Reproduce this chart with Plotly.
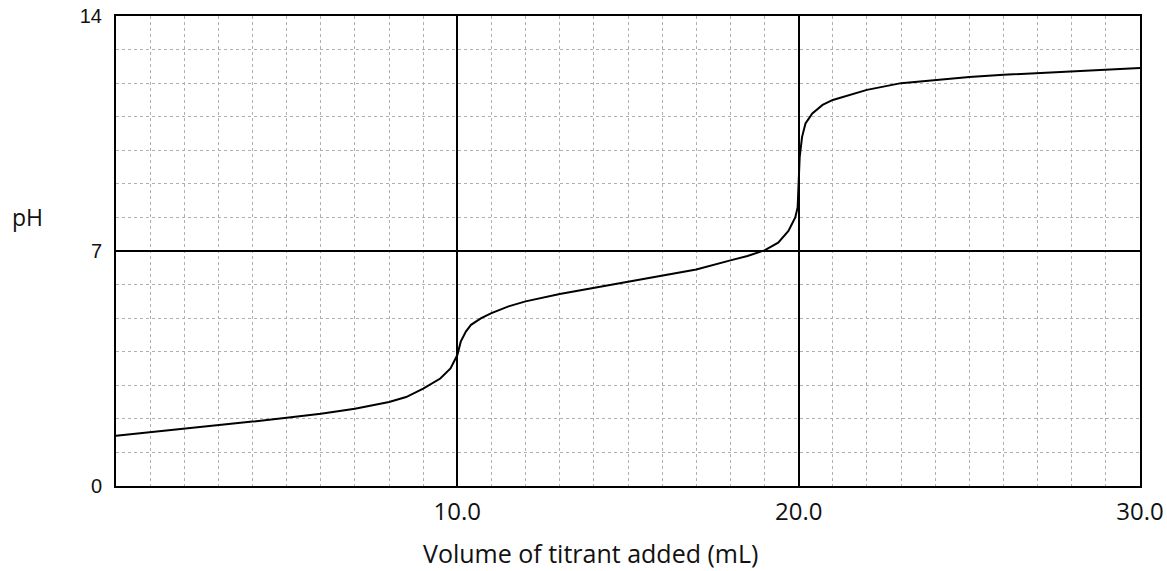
import plotly.graph_objects as go

volume_ml = [0, 1, 2, 3, 4, 5, 6, 7, 8, 8.5, 9, 9.5, 9.8, 10, 10.1, 10.25, 10.4, 10.7,
             11, 11.5, 12, 13, 14, 14.5, 15, 16, 17, 18, 18.5, 19, 19.4, 19.7, 19.9,
             19.97, 20.0, 20.03, 20.1, 20.2, 20.4, 20.7, 21, 21.5, 22, 23, 24, 25, 26,
             27, 28, 29, 30]
ph_values = [1.5, 1.6, 1.7, 1.8, 1.92, 2.03, 2.15, 2.3, 2.5, 2.65, 2.9, 3.2, 3.5, 3.9,
             4.3, 4.6, 4.8, 5.0, 5.15, 5.35, 5.5, 5.72, 5.9, 5.98, 6.07, 6.25, 6.45,
             6.72, 6.85, 7.02, 7.25, 7.6, 8.0, 8.3, 9.0, 9.8, 10.4, 10.8, 11.1, 11.35,
             11.5, 11.65, 11.8, 12.0, 12.1, 12.18, 12.25, 12.3, 12.35, 12.4, 12.45]

x_tick_vals = [10, 20, 30]
x_tick_text = ["10.0", "20.0", "30.0"]
y_tick_vals = [0, 7, 14]
y_tick_text = ["0", "7", "14"]

fig = go.Figure()
fig.add_trace(go.Scatter(x=volume_ml, y=ph_values, mode="lines",
                         line=dict(color="black", width=2), showlegend=False,
                         hoverinfo="skip"))

fig.update_layout(
    width=1167, height=571,
    margin=dict(l=116, r=27, t=16, b=85, autoexpand=False),
    paper_bgcolor="white", plot_bgcolor="white",
    font=dict(family="Liberation Sans, Arial, sans-serif", color="#111"),
)
fig.update_xaxes(
    range=[0, 30], tickvals=x_tick_vals, ticktext=x_tick_text,
    tickfont=dict(size=24, family="Open Sans, sans-serif"), ticks="",
    showgrid=True, gridcolor="black", gridwidth=2,
    minor=dict(dtick=1, showgrid=True, gridcolor="#b0b0b0", gridwidth=1, griddash="dot"),
    showline=True, linecolor="black", linewidth=2, mirror=True, zeroline=False,
    ticklabelstandoff=3, automargin=False,
)
fig.update_yaxes(
    range=[0, 14], tickvals=y_tick_vals, ticktext=y_tick_text,
    tickfont=dict(size=20), ticks="",
    showgrid=True, gridcolor="black", gridwidth=2,
    minor=dict(dtick=1, showgrid=True, gridcolor="#b0b0b0", gridwidth=1, griddash="dot"),
    showline=True, linecolor="black", linewidth=2, mirror=True, zeroline=False,
    ticklabelstandoff=8, automargin=False,
)
fig.add_annotation(text="pH", xref="paper", yref="y", x=-0.086, y=8.0,
                   xanchor="center", yanchor="middle", showarrow=False,
                   font=dict(size=23, family="Open Sans, sans-serif"))
fig.add_annotation(text="Volume of titrant added (mL)", xref="x", yref="paper",
                   x=13.9, y=-0.143, xanchor="center", yanchor="middle", showarrow=False,
                   font=dict(size=25, family="Open Sans, sans-serif"))

fig.write_html("out.html")
